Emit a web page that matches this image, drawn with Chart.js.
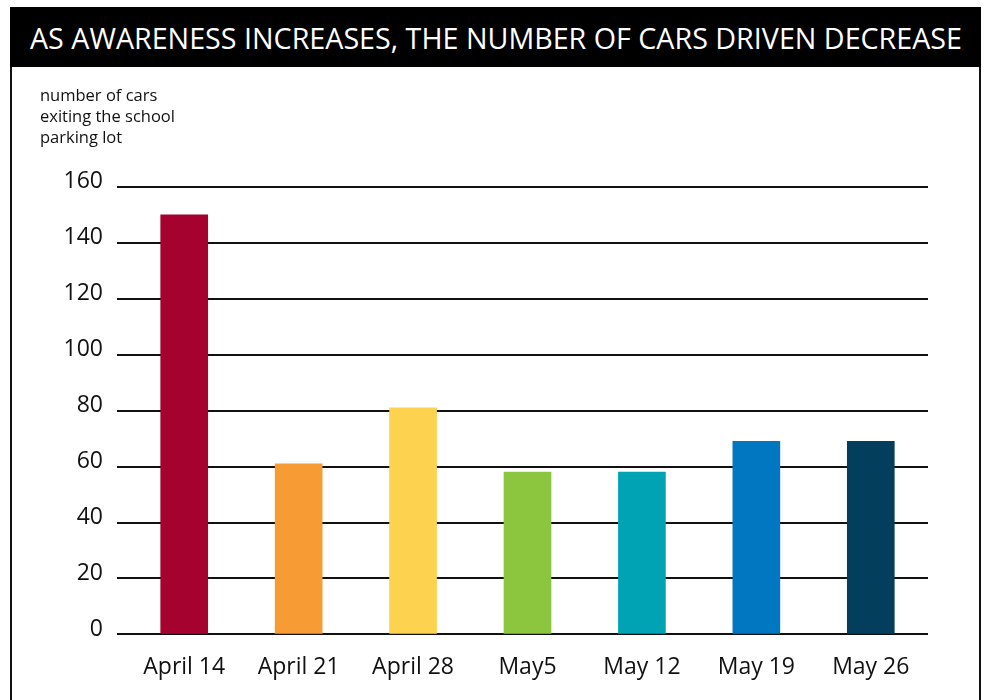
<!DOCTYPE html>
<html lang="en">
<head>
<meta charset="UTF-8">
<title>Cars exiting the school parking lot</title>
<script src="https://cdn.jsdelivr.net/npm/chart.js"></script>
<style>
  html, body { margin: 0; padding: 0; background: #fff; }
  body { width: 984px; height: 700px; position: relative; overflow: hidden; font-family: "Open Sans", sans-serif; }
  #frame { position: absolute; left: 10px; top: 7px; width: 971px; height: 720px; box-sizing: border-box; border: 2px solid #111; }
  #titleBar { position: absolute; left: 10px; top: 7px; width: 971px; height: 60px; background: #000; color: #fff; overflow: hidden; }
  #titleText { position: absolute; left: 50%; top: 50%; white-space: nowrap; font-size: 29px; line-height: 1; transform-origin: center center; }
  #chartBox { position: absolute; left: 12px; top: 67px; width: 967px; height: 633px; }
</style>
</head>
<body>
<div id="frame"></div>
<div id="titleBar"><span id="titleText">AS AWARENESS INCREASES, THE NUMBER OF CARS DRIVEN DECREASE</span></div>
<div id="chartBox"><canvas id="carsChart"></canvas></div>

<script>
  // data
  const weeks = ["April 14", "April 21", "April 28", "May5", "May 12", "May 19", "May 26"];
  const carCounts = [150, 61, 81, 58, 58, 69, 69];
  const barColors = ["#a60230", "#f79c34", "#fdd24f", "#8cc63f", "#00a3b3", "#0077c0", "#033e5c"];
  const yTicks = [0, 20, 40, 60, 80, 100, 120, 140, 160];
  const yLabelLines = ["number of cars", "exiting the school", "parking lot"];

  // squeeze the title so it spans the bar like the condensed original
  const titleText = document.getElementById("titleText");
  const w = titleText.getBoundingClientRect().width;
  titleText.style.transform = `translate(-50%, -50%) scaleX(${932 / w})`;

  const ctx = document.getElementById("carsChart").getContext("2d");
  new Chart(ctx, {
    type: "bar",
    data: {
      labels: weeks,
      datasets: [{
        data: carCounts,
        backgroundColor: barColors,
        borderWidth: 0,
        barThickness: 47
      }]
    },
    options: {
      responsive: true,
      maintainAspectRatio: false,
      animation: false,
      layout: { padding: { left: 28, right: 51, top: 0, bottom: 0 } },
      plugins: {
        legend: { display: false },
        tooltip: { enabled: false },
        title: {
          display: true,
          text: yLabelLines,
          align: "start",
          color: "#111",
          font: { family: "Open Sans", size: 16.5, weight: "normal", lineHeight: 1.27 },
          padding: { top: 19, bottom: 38 }
        }
      },
      scales: {
        x: {
          grid: { display: false, drawTicks: false },
          border: { display: false },
          ticks: {
            color: "#111",
            padding: 19,
            font: { family: "Open Sans", size: 23 }
          }
        },
        y: {
          min: 0,
          max: 160,
          afterFit: (axis) => { axis.width = 87; },
          afterBuildTicks: (axis) => { axis.ticks = yTicks.map(v => ({ value: v })); },
          grid: { color: "#111", lineWidth: 2, tickLength: 10, tickColor: "#111", tickWidth: 2 },
          border: { display: false },
          ticks: {
            color: "#111",
            padding: 14,
            labelOffset: -5,
            font: { family: "Open Sans", size: 23 }
          }
        }
      }
    }
  });
</script>
</body>
</html>
